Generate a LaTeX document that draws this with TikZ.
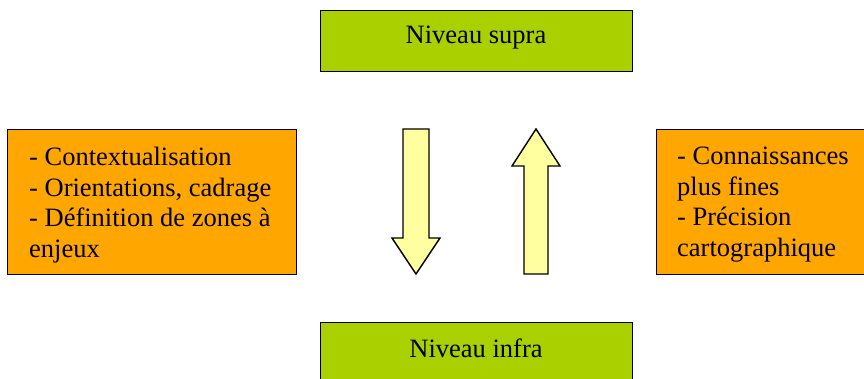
\documentclass[tikz,border=0pt]{standalone}
\usepackage{fontspec}
\setmainfont{Liberation Serif}
\definecolor{limegreen}{RGB}{170,208,0}
\definecolor{orangefill}{RGB}{255,166,0}
\definecolor{paleyellow}{RGB}{255,255,160}
\begin{document}
\begin{tikzpicture}[x=1pt,y=1pt,
  greenbox/.style={draw=black, line width=1.4pt, fill=limegreen, inner sep=0pt, minimum width=312pt, minimum height=61pt, anchor=north west},
  orangebox/.style={draw=black, line width=1.4pt, fill=orangefill, inner sep=0pt, minimum height=145pt, anchor=north west},
  lbl/.style={inner sep=0pt, font=\fontsize{26.5}{30.5}\selectfont},
  listlbl/.style={lbl, align=left, anchor=north west},
  bigarrow/.style={draw=black, line width=1.4pt, fill=paleyellow, line join=miter}]
\useasboundingbox (0,0) rectangle (864,378);
% top and bottom boxes
\node[greenbox] (supra) at (320,368) {};
\node[lbl, anchor=base] (supratxt) at (476,334) {Niveau supra};
\node[greenbox, minimum height=80pt] (infra) at (320,56) {};
\node[lbl, anchor=base] (infratxt) at (476,21) {Niveau infra};
% side boxes
\node[orangebox, minimum width=289pt] (left) at (7,249) {};
\node[listlbl] (lefttxt) at (29,231) {- Contextualisation\\- Orientations, cadrage\\- Définition de zones à\\enjeux};
\node[orangebox, minimum width=220pt] (right) at (656,249) {};
\node[listlbl] (righttxt) at (677,231) {- Connaissances\\plus fines\\- Précision\\cartographique};
% arrows
\draw[bigarrow] (403,249) -- (429,249) -- (429,140) -- (440,140) -- (416,104) -- (392,140) -- (403,140) -- cycle;
\draw[bigarrow] (536,249) -- (560,212) -- (548,212) -- (548,104) -- (524,104) -- (524,212) -- (512,212) -- cycle;
\end{tikzpicture}
\end{document}
